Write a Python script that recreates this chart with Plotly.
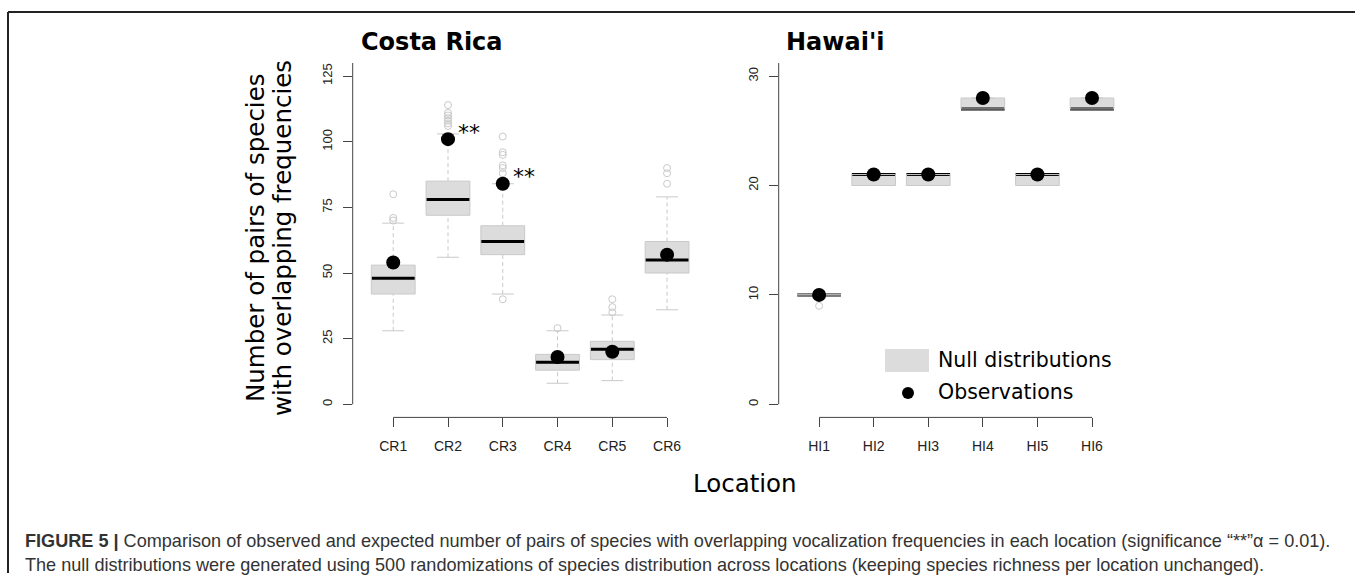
import numpy as np
import plotly.graph_objects as go

# ---------------- data ----------------
cr_labels = ["CR1", "CR2", "CR3", "CR4", "CR5", "CR6"]
cr_q1 = [42, 72, 57, 13, 17, 50]
cr_median = [48, 78, 62, 16, 21, 55]
cr_q3 = [53, 85, 68, 19, 24, 62]
cr_lower = [28, 56, 42, 8, 9, 36]
cr_upper = [69, 103, 84, 28, 34, 79]
cr_outliers = [[80, 71, 70], [114, 111, 110, 109, 108, 107, 106], [102, 96, 95, 91, 90, 88, 40],
               [29], [40, 37, 35], [90, 88, 84]]
cr_observed = [54, 101, 84, 18, 20, 57]
cr_signif = ["", "**", "**", "", "", ""]

hi_labels = ["HI1", "HI2", "HI3", "HI4", "HI5", "HI6"]
hi_q1 = [10, 20, 20, 27, 20, 27]
hi_median = [10, 21, 21, 27, 21, 27]
hi_q3 = [10, 21, 21, 28, 21, 28]
hi_lower = [10, 20, 20, 27, 20, 27]
hi_upper = [10, 21, 21, 28, 21, 28]
hi_outliers = [[9], [], [], [], [], []]
hi_observed = [10, 21, 21, 28, 21, 28]
hi_signif = ["", "", "", "", "", ""]

cr_yticks = [0, 25, 50, 75, 100, 125]
hi_yticks = [0, 10, 20, 30]

W, H = 1355, 583
BOX_FILL = "#dcdcdc"
BOX_LINE = "#c9c9c9"
AXIS_COL = "#444444"

fig = go.Figure()


def px_x(p):
    return p / W


def px_y(p):
    return 1 - p / H


def add_panel(labels, q1, med, q3, lo, hi, outl, obs, sig, xr, yr):
    pos = np.arange(1, len(labels) + 1)
    q1 = np.array(q1, float); q3 = np.array(q3, float)
    # box fill
    fig.add_trace(go.Bar(x=pos, y=q3 - q1, base=q1, width=0.8, xaxis=xr, yaxis=yr,
                         marker=dict(color=BOX_FILL, line=dict(width=0)),
                         showlegend=False, hoverinfo="skip"))
    # whiskers (dashed)
    wx, wy = [], []
    for p, a, b, c, d in zip(pos, lo, q1, q3, hi):
        wx += [p, p, None, p, p, None]
        wy += [a, b, None, c, d, None]
    fig.add_trace(go.Scatter(x=wx, y=wy, mode="lines", xaxis=xr, yaxis=yr,
                             line=dict(color=BOX_LINE, width=1, dash="4px,3px"),
                             showlegend=False, hoverinfo="skip"))
    # staples
    sx, sy = [], []
    for p, a, d in zip(pos, lo, hi):
        sx += [p - 0.2, p + 0.2, None, p - 0.2, p + 0.2, None]
        sy += [a, a, None, d, d, None]
    fig.add_trace(go.Scatter(x=sx, y=sy, mode="lines", xaxis=xr, yaxis=yr,
                             line=dict(color=BOX_LINE, width=1),
                             showlegend=False, hoverinfo="skip"))
    # medians
    mx, my = [], []
    for p, m in zip(pos, med):
        mx += [p - 0.4, p + 0.4, None]
        my += [m, m, None]
    fig.add_trace(go.Scatter(x=mx, y=my, mode="lines", xaxis=xr, yaxis=yr,
                             line=dict(color="black", width=3),
                             showlegend=False, hoverinfo="skip"))
    # box outline
    bx, by = [], []
    for p, a, b in zip(pos, q1, q3):
        bx += [p - 0.4, p + 0.4, p + 0.4, p - 0.4, p - 0.4, None]
        by += [a, a, b, b, a, None]
    fig.add_trace(go.Scatter(x=bx, y=by, mode="lines", xaxis=xr, yaxis=yr,
                             line=dict(color=BOX_LINE, width=1),
                             showlegend=False, hoverinfo="skip"))
    # outliers
    ox, oy = [], []
    for p, vals in zip(pos, outl):
        ox += [p] * len(vals)
        oy += list(vals)
    fig.add_trace(go.Scatter(x=ox, y=oy, mode="markers", xaxis=xr, yaxis=yr,
                             marker=dict(symbol="circle-open", size=7, color=BOX_LINE,
                                         line=dict(width=1, color=BOX_LINE)),
                             showlegend=False, hoverinfo="skip"))
    # observations
    fig.add_trace(go.Scatter(x=pos, y=obs, mode="markers", xaxis=xr, yaxis=yr,
                             marker=dict(symbol="circle", size=14, color="black"),
                             showlegend=False, hoverinfo="skip", cliponaxis=False))
    # significance
    for p, o, s in zip(pos, obs, sig):
        if s:
            fig.add_annotation(x=p, y=o, xref=xr, yref=yr, text=s, showarrow=False,
                               xanchor="left", yanchor="middle", xshift=8, yshift=7,
                               font=dict(family="DejaVu Sans", size=22, color="black"))
    return pos


cr_pos = add_panel(cr_labels, cr_q1, cr_median, cr_q3, cr_lower, cr_upper, cr_outliers,
                   cr_observed, cr_signif, "x", "y")
hi_pos = add_panel(hi_labels, hi_q1, hi_median, hi_q3, hi_lower, hi_upper, hi_outliers,
                   hi_observed, hi_signif, "x2", "y2")

cr_range = [-5, 130]
hi_range = [-1.2, 31.2]
ydom = [px_y(417.4), px_y(63)]

xcommon = dict(range=[0.26, 6.74], showgrid=False, zeroline=False, showline=False,
               ticks="outside", ticklen=9, tickwidth=1, tickcolor=AXIS_COL,
               tickfont=dict(family="Liberation Sans", size=14, color="#222222"),
               ticklabelstandoff=7, automargin=False, fixedrange=True)
ycommon = dict(showgrid=False, zeroline=False, showline=False, ticks="outside", ticklen=9,
               tickwidth=1, tickcolor=AXIS_COL, tickangle=-90,
               tickfont=dict(family="Liberation Sans", size=13, color="#222222"),
               ticklabelstandoff=6, automargin=False, fixedrange=True)

fig.update_layout(
    width=W, height=H, margin=dict(l=0, r=0, t=0, b=0),
    paper_bgcolor="white", plot_bgcolor="white", showlegend=False,
    xaxis=dict(domain=[px_x(352.7), px_x(707.6)], tickvals=list(cr_pos), ticktext=cr_labels, **xcommon),
    xaxis2=dict(domain=[px_x(778.7), px_x(1132.4)], tickvals=list(hi_pos), ticktext=hi_labels,
                anchor="y2", **xcommon),
    yaxis=dict(domain=ydom, range=cr_range, tickvals=cr_yticks, **ycommon),
    yaxis2=dict(domain=ydom, range=hi_range, tickvals=hi_yticks, anchor="x2", **ycommon),
)

shapes = []
# axis lines (R style: y from 0 to top, x from first to last tick)
for xr, yr, pos, rng in [("x", "y", cr_pos, cr_range), ("x2", "y2", hi_pos, hi_range)]:
    shapes.append(dict(type="line", xref=xr + " domain", yref=yr, x0=0, x1=0, y0=0, y1=rng[1],
                       line=dict(color=AXIS_COL, width=1)))
    shapes.append(dict(type="line", xref=xr, yref=yr + " domain", x0=pos[0], x1=pos[-1], y0=0, y1=0,
                       line=dict(color=AXIS_COL, width=1)))
# outer frame (left and top)
shapes.append(dict(type="line", xref="paper", yref="paper", x0=px_x(8), x1=px_x(8),
                   y0=px_y(12), y1=px_y(573), line=dict(color="#222222", width=2)))
shapes.append(dict(type="line", xref="paper", yref="paper", x0=px_x(8), x1=1,
                   y0=px_y(12), y1=px_y(12), line=dict(color="#222222", width=2)))
# legend key
shapes.append(dict(type="rect", xref="paper", yref="paper", x0=px_x(885), x1=px_x(929),
                   y0=px_y(372), y1=px_y(349), fillcolor=BOX_FILL, line=dict(width=0)))
shapes.append(dict(type="circle", xref="paper", yref="paper", x0=px_x(902), x1=px_x(914),
                   y0=px_y(399), y1=px_y(387), fillcolor="black", line=dict(width=0)))
fig.update_layout(shapes=shapes)

ann = []
def txt(x, y, s, size, fam="DejaVu Sans", anchor="center", angle=0, color="black", align="center"):
    ann.append(dict(x=px_x(x), y=px_y(y), xref="paper", yref="paper", text=s, showarrow=False,
                    xanchor=anchor, yanchor="middle", textangle=angle, align=align,
                    font=dict(family=fam, size=size, color=color)))

txt(432, 42, "<b>Costa Rica</b>", 24)
txt(835, 42, "<b>Hawai'i</b>", 24)
txt(255, 238, "Number of pairs of species", 24.5, angle=-90)
txt(282, 238, "with overlapping frequencies", 24.5, angle=-90)
txt(745, 483, "Location", 24.5)
txt(936, 360, "Null distributions", 20.5, anchor="left")
txt(936, 392, "Observations", 20.5, anchor="left")
txt(23, 553, "<b>FIGURE 5 |</b> Comparison of observed and expected number of pairs of species with overlapping "
    "vocalization frequencies in each location (significance “**”α = 0.01).<br>"
    "The null distributions were generated using 500 randomizations of species distribution across "
    "locations (keeping species richness per location unchanged).", 18.1,
    fam="Liberation Sans", anchor="left", color="#333333", align="left")
fig.update_layout(annotations=list(fig.layout.annotations) + ann)

fig.write_html("out.html", config={"displayModeBar": False},
               post_script="document.body.style.margin='0';document.body.style.padding='0';")
